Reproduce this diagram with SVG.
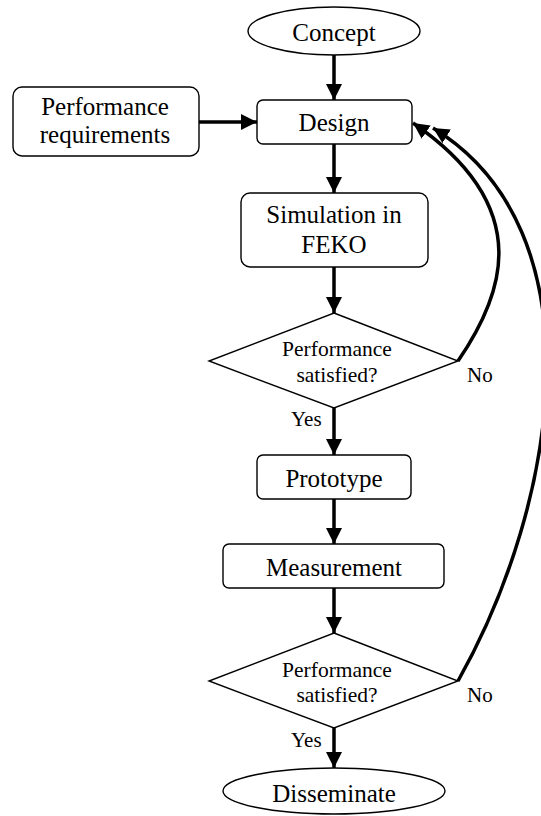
<svg xmlns="http://www.w3.org/2000/svg" width="541" height="816" viewBox="0 0 541 816" font-family="'Liberation Serif', Tinos, 'Times New Roman', 'Nimbus Roman', 'DejaVu Serif', serif">
<defs>
<marker id="ah" markerUnits="userSpaceOnUse" markerWidth="16" markerHeight="16" refX="14" refY="7" orient="auto" viewBox="0 0 14 14">
<path d="M0,0 L14,7 L0,14 Z" fill="#000"/>
</marker>
</defs>
<style>
.shape{fill:#fff;stroke:#000;stroke-width:1.4}
text{font-family:'Liberation Serif', Tinos, 'Times New Roman', 'Nimbus Roman', 'DejaVu Serif', serif;fill:#000}
.t{font-size:25px;text-anchor:middle}
.s{font-size:21.5px;text-anchor:middle}
.l{font-size:21px}
.c{fill:none;stroke:#000;stroke-width:3.5;marker-end:url(#ah)}
</style>
<rect width="541" height="816" fill="#fff"/>
<g id="connectors">
<path class="c" d="M334,55 L334,100"/>
<path class="c" d="M199,122 L257,122"/>
<path class="c" d="M334,144 L334,193"/>
<path class="c" d="M334,267 L334,313"/>
<path class="c" d="M334,408 L334,455"/>
<path class="c" d="M334,499 L334,544"/>
<path class="c" d="M334,588 L334,633"/>
<path class="c" d="M334,728 L334,768"/>
<path class="c" d="M458,361 C500,300 540,210 413,123"/>
<path class="c" d="M458,681 C560,500 600,230 433,128"/>
</g>
<g id="concept">
<ellipse class="shape" cx="334" cy="31" rx="86" ry="24"/>
<text class="t" x="334" y="41">Concept</text>
</g>
<g id="requirements">
<rect class="shape" x="13" y="87" width="186" height="69" rx="9"/>
<text class="t" x="105" y="115">Performance</text>
<text class="t" x="105" y="143">requirements</text>
</g>
<g id="design">
<rect class="shape" x="257" y="100" width="155" height="44" rx="6"/>
<text class="t" x="334" y="131">Design</text>
</g>
<g id="simulation">
<rect class="shape" x="241" y="193" width="187" height="74" rx="9"/>
<text class="t" x="334" y="223">Simulation in</text>
<text class="t" x="334" y="253">FEKO</text>
</g>
<g id="decision1">
<polygon class="shape" points="334,313 458,361 334,408 209,361"/>
<text class="s" x="337" y="356">Performance</text>
<text class="s" x="337" y="382">satisfied?</text>
<text class="l" x="467" y="382">No</text>
<text class="l" x="291" y="426">Yes</text>
</g>
<g id="prototype">
<rect class="shape" x="257" y="455" width="154" height="44" rx="6"/>
<text class="t" x="334" y="487">Prototype</text>
</g>
<g id="measurement">
<rect class="shape" x="223" y="544" width="221" height="44" rx="6"/>
<text class="t" x="334" y="576">Measurement</text>
</g>
<g id="decision2">
<polygon class="shape" points="334,633 458,681 334,728 209,681"/>
<text class="s" x="337" y="677">Performance</text>
<text class="s" x="337" y="702">satisfied?</text>
<text class="l" x="467" y="702">No</text>
<text class="l" x="291" y="747">Yes</text>
</g>
<g id="disseminate">
<ellipse class="shape" cx="334" cy="791" rx="111" ry="23"/>
<text class="t" x="334" y="802">Disseminate</text>
</g>
</svg>
